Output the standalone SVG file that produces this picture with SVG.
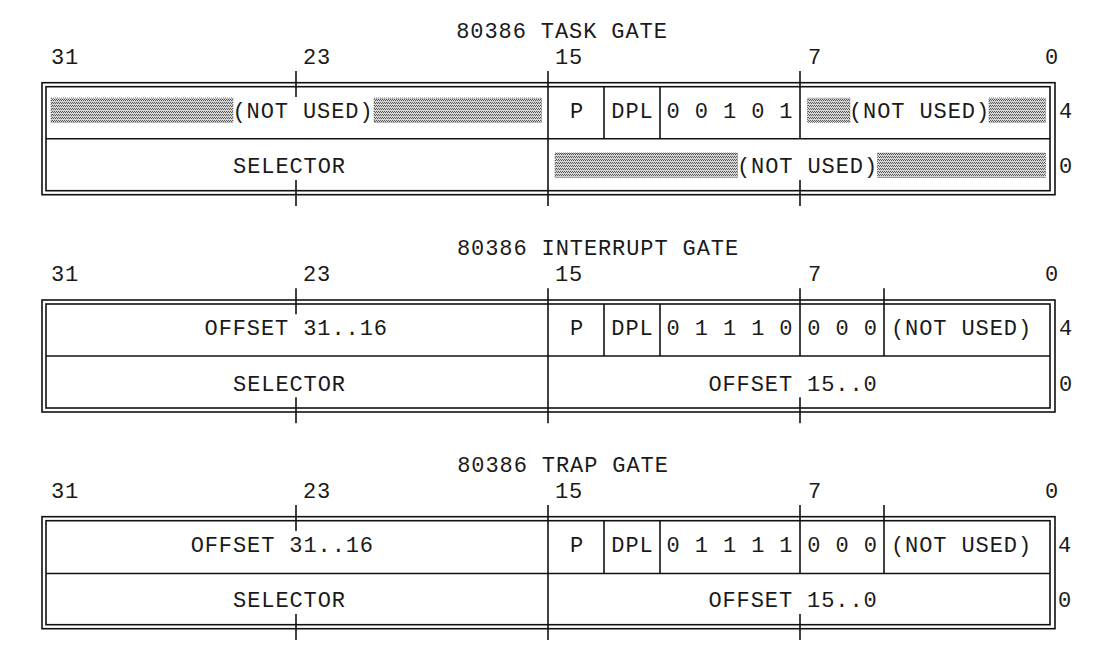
<svg xmlns="http://www.w3.org/2000/svg" width="1116" height="666" viewBox="0 0 1116 666">
<defs>
<pattern id="dots" width="2" height="3" patternUnits="userSpaceOnUse">
<rect width="2" height="3" fill="#d4d4d4"/>
<rect x="0" y="0" width="1" height="1" fill="#5a5a5a"/>
<rect x="1" y="1" width="1" height="1" fill="#5a5a5a"/>
</pattern>
</defs>
<style>
text{font-family:"Liberation Mono","DejaVu Sans Mono",monospace;font-size:22px;letter-spacing:0.9px;fill:#1a1a1a;text-anchor:middle}
.ln{stroke:#111;stroke-width:1.6;fill:none}
.hat{fill:url(#dots);stroke:#444;stroke-width:0.6;stroke-dasharray:1 1}
</style>
<rect width="1116" height="666" fill="#fff"/>

<g id="task-gate">
<text x="562" y="37.5">80386 TASK GATE</text>
<g id="task-bits"><text x="65" y="64">31</text><text x="317" y="64">23</text><text x="569" y="64">15</text><text x="815" y="64">7</text><text x="1052" y="64">0</text></g>
<g id="task-frame">
<rect class="ln" x="42" y="82.7" width="1013" height="112"/>
<rect class="ln" x="46" y="86.7" width="1004" height="104"/>
<line class="ln" x1="46" y1="138.7" x2="1050" y2="138.7"/>
<line class="ln" x1="548" y1="71" x2="548" y2="206"/>
<line class="ln" x1="296" y1="71" x2="296" y2="97"/>
<line class="ln" x1="296" y1="180" x2="296" y2="206"/>
<line class="ln" x1="800" y1="71" x2="800" y2="138.7"/>
<line class="ln" x1="800" y1="180" x2="800" y2="206"/>
<line class="ln" x1="604" y1="86.7" x2="604" y2="138.7"/>
<line class="ln" x1="660" y1="86.7" x2="660" y2="138.7"/>
</g>
<g id="task-notused-hi">
<rect class="hat" x="51" y="98" width="182" height="24.5"/>
<text x="303" y="118">(NOT USED)</text>
<rect class="hat" x="374" y="98" width="167.5" height="24.5"/>
</g>
<g id="task-p"><text x="577" y="118">P</text></g>
<g id="task-dpl"><text x="632.5" y="118">DPL</text></g>
<g id="task-type"><text x="730" y="118">0 0 1 0 1</text></g>
<g id="task-notused-lo">
<rect class="hat" x="807.5" y="98" width="42.5" height="24.5"/>
<text x="919.5" y="118">(NOT USED)</text>
<rect class="hat" x="989" y="98" width="56.5" height="24.5"/>
</g>
<text x="1066" y="118">4</text>
<g id="task-selector"><text x="289.5" y="173.3">SELECTOR</text></g>
<g id="task-notused-2">
<rect class="hat" x="555" y="153" width="182.5" height="24.5"/>
<text x="807.5" y="173.3">(NOT USED)</text>
<rect class="hat" x="877.5" y="153" width="168" height="24.5"/>
</g>
<text x="1066" y="173.3">0</text>
</g>

<g id="interrupt-gate" transform="translate(0,217.3)">
<text x="598" y="37.5">80386 INTERRUPT GATE</text>
<g id="int-bits"><text x="65" y="64">31</text><text x="317" y="64">23</text><text x="569" y="64">15</text><text x="815" y="64">7</text><text x="1052" y="64">0</text></g>
<g id="int-frame">
<rect class="ln" x="42" y="82.7" width="1013" height="112"/>
<rect class="ln" x="46" y="86.7" width="1004" height="104"/>
<line class="ln" x1="46" y1="138.7" x2="1050" y2="138.7"/>
<line class="ln" x1="548" y1="71" x2="548" y2="206"/>
<line class="ln" x1="296" y1="71" x2="296" y2="97"/>
<line class="ln" x1="296" y1="180" x2="296" y2="206"/>
<line class="ln" x1="800" y1="71" x2="800" y2="138.7"/>
<line class="ln" x1="800" y1="180" x2="800" y2="206"/>
<line class="ln" x1="884" y1="71" x2="884" y2="138.7"/>
<line class="ln" x1="604" y1="86.7" x2="604" y2="138.7"/>
<line class="ln" x1="660" y1="86.7" x2="660" y2="138.7"/>
</g>
<g id="int-offset-hi"><text x="296.2" y="118">OFFSET 31..16</text></g>
<g id="int-p"><text x="577" y="118">P</text></g>
<g id="int-dpl"><text x="632.5" y="118">DPL</text></g>
<g id="int-type"><text x="730" y="118">0 1 1 1 0</text></g>
<g id="int-zero"><text x="842.5" y="118">0 0 0</text></g>
<g id="int-notused"><text x="961.5" y="118">(NOT USED)</text></g>
<text x="1066" y="118">4</text>
<g id="int-selector"><text x="289.5" y="173.3">SELECTOR</text></g>
<g id="int-offset-lo"><text x="793" y="173.3">OFFSET 15..0</text></g>
<text x="1066" y="173.3">0</text>
</g>

<g id="trap-gate" transform="translate(0,434)">
<text x="563" y="37.5">80386 TRAP GATE</text>
<g id="trap-bits"><text x="65" y="64">31</text><text x="317" y="64">23</text><text x="569" y="64">15</text><text x="815" y="64">7</text><text x="1052" y="64">0</text></g>
<g id="trap-frame">
<rect class="ln" x="42" y="82.7" width="1013" height="112"/>
<rect class="ln" x="46" y="86.7" width="1004" height="104"/>
<line class="ln" x1="46" y1="139.5" x2="1050" y2="139.5"/>
<line class="ln" x1="548" y1="71" x2="548" y2="206"/>
<line class="ln" x1="296" y1="71" x2="296" y2="97"/>
<line class="ln" x1="296" y1="180" x2="296" y2="206"/>
<line class="ln" x1="800" y1="71" x2="800" y2="139.5"/>
<line class="ln" x1="800" y1="180" x2="800" y2="206"/>
<line class="ln" x1="884" y1="71" x2="884" y2="139.5"/>
<line class="ln" x1="604" y1="86.7" x2="604" y2="139.5"/>
<line class="ln" x1="660" y1="86.7" x2="660" y2="139.5"/>
</g>
<g id="trap-offset-hi"><text x="282.3" y="118">OFFSET 31..16</text></g>
<g id="trap-p"><text x="577" y="118">P</text></g>
<g id="trap-dpl"><text x="632.5" y="118">DPL</text></g>
<g id="trap-type"><text x="730" y="118">0 1 1 1 1</text></g>
<g id="trap-zero"><text x="842.5" y="118">0 0 0</text></g>
<g id="trap-notused"><text x="961.5" y="118">(NOT USED)</text></g>
<text x="1065" y="118">4</text>
<g id="trap-selector"><text x="289.5" y="173.3">SELECTOR</text></g>
<g id="trap-offset-lo"><text x="793" y="173.3">OFFSET 15..0</text></g>
<text x="1065" y="173.3">0</text>
</g>
</svg>
